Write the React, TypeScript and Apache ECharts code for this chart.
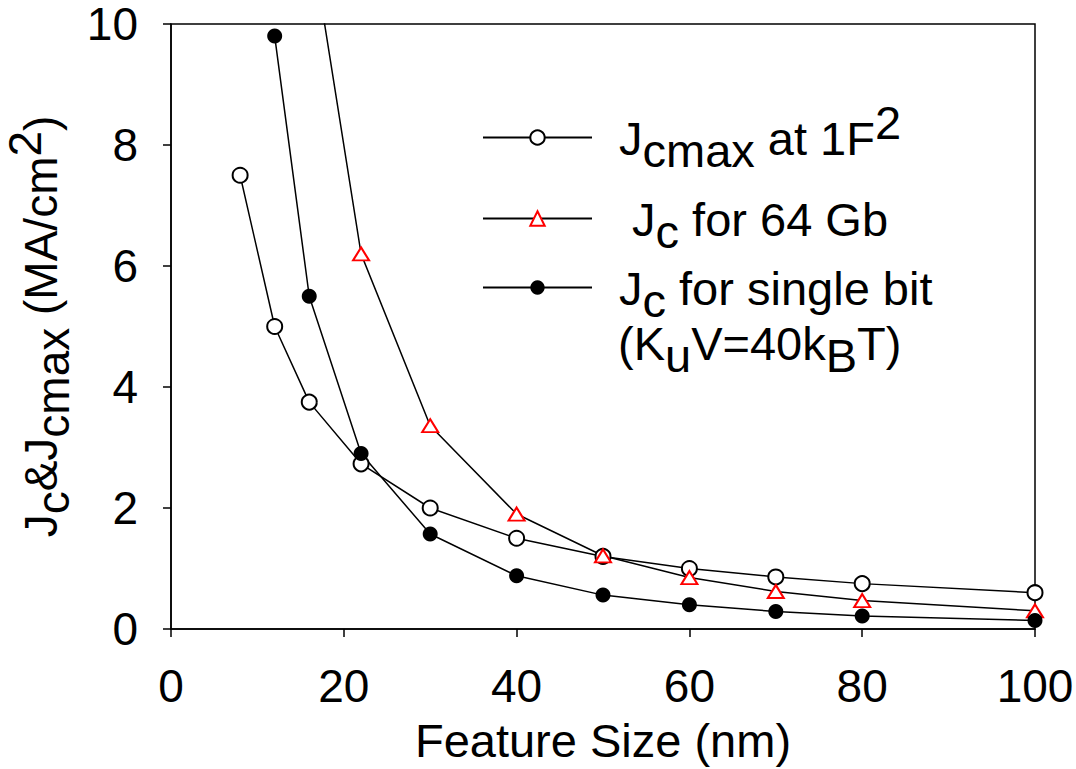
import React, { useEffect, useRef } from "react";
import * as echarts from "echarts";

// ---- data ----
const sizesJcmax = [8, 12, 16, 22, 30, 40, 50, 60, 70, 80, 100];
const jcmax1F2 = [7.5, 5.0, 3.75, 2.73, 2.0, 1.5, 1.2, 1.0, 0.86, 0.75, 0.6];

const sizes64Gb = [16, 22, 30, 40, 50, 60, 70, 80, 100];
const jc64Gb = [11.6, 6.2, 3.36, 1.9, 1.21, 0.85, 0.62, 0.47, 0.3];

const sizesSingle = [12, 16, 22, 30, 40, 50, 60, 70, 80, 100];
const jcSingleBit = [9.8, 5.5, 2.9, 1.57, 0.88, 0.56, 0.4, 0.29, 0.215, 0.14];

const seriesNames = ["Jcmax at 1F2", "Jc for 64 Gb", "Jc for single bit"];
const legendLabels = [
  "{f|J}{b|cmax}{n| at 1F}{p|2}",
  "{f| J}{b|c}{n| for 64 Gb}",
  "{f|J}{b|c}{n| for single bit}",
];
const legendSecondLine = "{n|(K}{b|u}{n|V=40k}{b|B}{n|T)}";
const xAxisTitle = "Feature Size (nm)";
const yAxisTitle = "{n|J}{b|c}{n|&J}{b|cmax}{n| (MA/cm}{p|2}{n|)}";

const FONT = "'Liberation Sans', Arial, Helvetica, sans-serif";
const FS = 46;
const FS_T = 47;

function makeRich(fs: number, lead: number) {
  const base = { fontSize: fs, fontFamily: FONT, color: "#000" };
  return {
    n: { ...base, padding: [16, 0, 14, 0] },
    f: { ...base, padding: [16, 0, 14, lead] },
    b: { ...base, padding: [28, 0, 2, 0] },
    p: { ...base, padding: [0, 0, 30, 0] },
  };
}
const rich = makeRich(FS_T, 22);
const richY = makeRich(FS, 0);
const rich2 = {
  n: { fontSize: FS_T, fontFamily: FONT, color: "#000", padding: [0, 0, 12, 0] },
  b: { fontSize: FS_T, fontFamily: FONT, color: "#000", padding: [12, 0, 0, 0] },
};

function pairs(xs: number[], ys: number[]) {
  return xs.map((x, i) => [x, ys[i]]);
}

export default function App() {
  const ref = useRef<HTMLDivElement>(null);
  useEffect(() => {
    if (!ref.current) return;
    const chart = echarts.init(ref.current, null, { renderer: "svg" });
    const axisLine = { lineStyle: { color: "#000", width: 1.5 } };
    const lineStyle = { color: "#000", width: 1.5 };
    const legendTops = [99, 196, 265];
    chart.setOption({
      animation: false,
      backgroundColor: "#fff",
      grid: {
        left: 171,
        right: 41,
        top: 24,
        bottom: 140,
        containLabel: false,
        outerBoundsMode: "none",
        show: true,
        borderColor: "#000",
        borderWidth: 1.5,
        backgroundColor: "transparent",
      },
      xAxis: {
        type: "value",
        min: 0,
        max: 100,
        interval: 20,
        axisLine: { ...axisLine, onZero: false },
        axisTick: { show: true, length: 8, lineStyle: { color: "#000", width: 1.5 } },
        axisLabel: { fontSize: FS, fontFamily: FONT, color: "#000", margin: 34 },
        splitLine: { show: false },
        name: xAxisTitle,
        nameLocation: "middle",
        nameGap: 88,
        nameTextStyle: { fontSize: FS_T, fontFamily: FONT, color: "#000" },
      },
      yAxis: {
        type: "value",
        min: 0,
        max: 10,
        interval: 2,
        axisLine: { ...axisLine, onZero: false },
        axisTick: { show: true, length: 8, lineStyle: { color: "#000", width: 1.5 } },
        axisLabel: { fontSize: FS, fontFamily: FONT, color: "#000", margin: 33 },
        splitLine: { show: false },
        name: yAxisTitle,
        nameLocation: "middle",
        nameGap: 87,
        nameTextStyle: { rich: richY },
      },
      legend: seriesNames.map((name, i) => ({
        data: [name],
        orient: "vertical",
        left: 482,
        top: legendTops[i],
        padding: 0,
        itemWidth: 109,
        itemHeight: 18,
        selectedMode: false,
        formatter: () => legendLabels[i],
        textStyle: { rich },
      })),
      graphic: [
        {
          type: "text",
          x: 618,
          y: 320,
          style: {
            text: legendSecondLine,
            rich: rich2,
            align: "left",
            verticalAlign: "top",
          },
        },
      ],
      series: [
        {
          name: seriesNames[0],
          type: "line",
          data: pairs(sizesJcmax, jcmax1F2),
          symbol: "emptyCircle",
          symbolSize: 15,
          clip: true,
          lineStyle,
          itemStyle: { color: "#000", borderColor: "#000", borderWidth: 1.5 },
        },
        {
          name: seriesNames[1],
          type: "line",
          data: pairs(sizes64Gb, jc64Gb),
          symbol: "emptyTriangle",
          symbolSize: [16, 13],
          clip: true,
          lineStyle,
          itemStyle: { color: "#ff0000", borderColor: "#ff0000", borderWidth: 1.5 },
        },
        {
          name: seriesNames[2],
          type: "line",
          data: pairs(sizesSingle, jcSingleBit),
          symbol: "circle",
          symbolSize: 15,
          clip: true,
          lineStyle,
          itemStyle: { color: "#000" },
        },
      ],
    });
    return () => chart.dispose();
  }, []);
  return (
    <div
      ref={ref}
      style={{ position: "fixed", left: 0, top: 0, width: 1076, height: 769 }}
    />
  );
}
